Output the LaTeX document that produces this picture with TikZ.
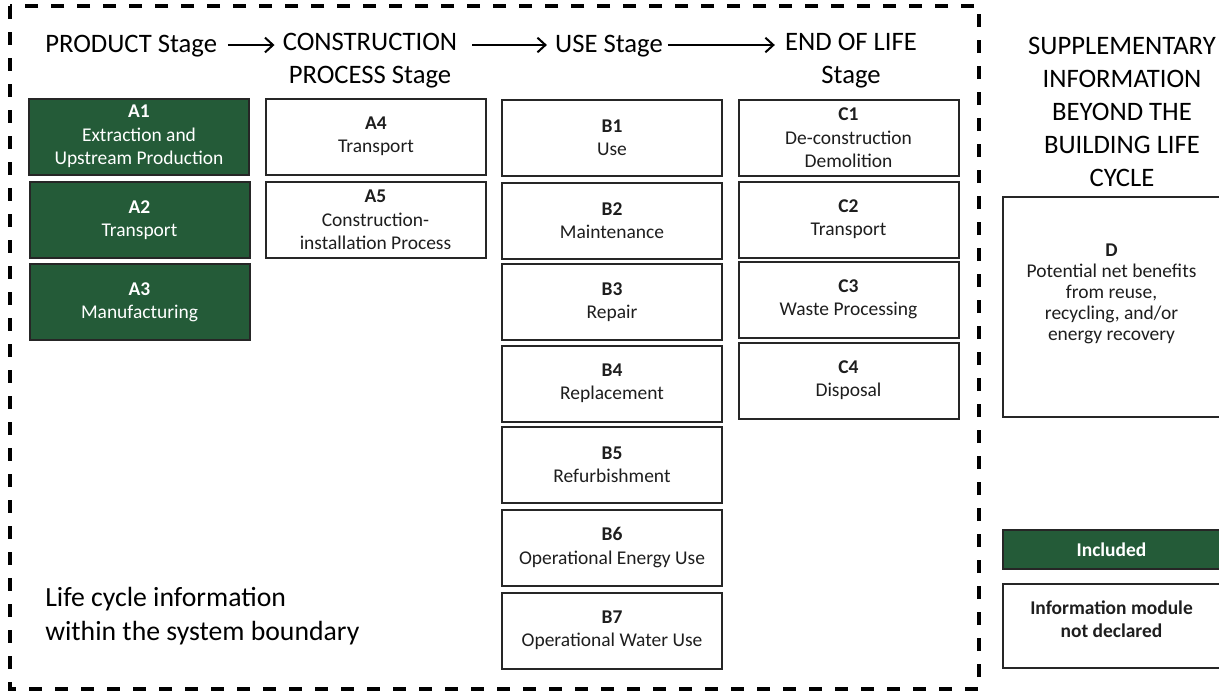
\documentclass[tikz,border=0pt]{standalone}
\usepackage{fontspec}
\setmainfont{Carlito}
\usetikzlibrary{arrows.meta}
\definecolor{incl}{RGB}{36,91,56}
\definecolor{txt}{RGB}{30,30,30}
\tikzset{
  mod/.style={draw=black!85, line width=1.5pt, fill=white, align=center, inner sep=0pt,
    minimum width=165pt, minimum height=57pt, text=txt,
    font=\fontsize{14.6}{17.5}\selectfont},
  inc/.style={mod, fill=incl, text=white},
  head/.style={inner sep=0pt, align=center, text=black,
    font=\fontsize{20}{24.75}\selectfont},
  arr/.style={line width=1.5pt, -{Straight Barb[length=6pt,width=11pt,line width=1.5pt]}},
  bound/.style={line width=3.6pt, dash pattern=on 10pt off 9.5pt}
}
\begin{document}
\begin{tikzpicture}[x=0.75pt,y=-0.75pt]
\useasboundingbox (0,0) rectangle (1219,694);
\draw[bound] (10,6) rectangle (979,689);

% headings (base = baseline of the last line)
\node[head, anchor=base west] (prod) at (45,52) {PRODUCT Stage};
\node[head, anchor=base] (cons) at (370,83) {CONSTRUCTION\\PROCESS Stage};
\node[head, anchor=base] (use) at (609,52) {USE Stage};
\node[head, anchor=base] (eol) at (851,83) {END OF LIFE\\Stage};
\node[head, anchor=base] (supp) at (1122,186) {SUPPLEMENTARY\\INFORMATION\\BEYOND THE\\BUILDING LIFE\\CYCLE};
\node[head, anchor=base west, align=left, font=\fontsize{20.8}{25.5}\selectfont] (life) at (45,640) {Life cycle information\\within the system boundary};

\coordinate (ay) at (0,45);
\draw[arr, shorten <=8pt, shorten >=6pt] (prod.east |- ay) -- (cons.west |- ay);
\draw[arr, shorten <=11pt, shorten >=6pt] (cons.east |- ay) -- (use.west |- ay);
\draw[arr, shorten <=3.5pt, shorten >=7.5pt] (use.east |- ay) -- (eol.west |- ay);

% A modules
\node[inc] (a1) at (139,136.5) {\textbf{A1}\\Extraction and\\Upstream Production};
\node[inc] (a2) at (139.5,220) {\textbf{A2}\\Transport};
\node[inc] (a3) at (139.5,302) {\textbf{A3}\\Manufacturing};
\node[mod] (a4) at (376,136.5) {\textbf{A4}\\Transport};
\node[mod] (a5) at (375.5,220) {\textbf{A5}\\Construction-\\installation Process};

% B modules
\node[mod] (b1) at (612,138) {\textbf{B1}\\Use};
\node[mod] (b2) at (612,220.5) {\textbf{B2}\\Maintenance};
\node[mod] (b3) at (612,302) {\textbf{B3}\\Repair};
\node[mod] (b4) at (612,383.5) {\textbf{B4}\\Replacement};
\node[mod] (b5) at (612,465) {\textbf{B5}\\Refurbishment};
\node[mod] (b6) at (612,547.5) {\textbf{B6}\\Operational Energy Use};
\node[mod] (b7) at (612,630.5) {\textbf{B7}\\Operational Water Use};

% C modules
\node[mod] (c1) at (848.5,138) {\textbf{C1}\\De-construction\\Demolition};
\node[mod] (c2) at (848.5,219.5) {\textbf{C2}\\Transport};
\node[mod] (c3) at (848.5,299.5) {\textbf{C3}\\Waste Processing};
\node[mod] (c4) at (848.5,380.5) {\textbf{C4}\\Disposal};

% D and legend
\node[mod, minimum width=163pt, minimum height=165pt, text depth=22pt, font=\fontsize{14.6}{15.8}\selectfont] (d) at (1111.5,307)
  {\textbf{D}\\Potential net benefits\\from reuse,\\recycling, and/or\\energy recovery};
\node[inc, minimum width=163pt, minimum height=29pt, font=\bfseries\fontsize{14.6}{17.5}\selectfont] (leginc) at (1111.5,549.5) {Included};
\node[mod, minimum width=163pt, minimum height=63pt, text depth=10.5pt, font=\bfseries\fontsize{14.6}{17.5}\selectfont] (legnd) at (1111.5,626) {Information module\\not declared};
\end{tikzpicture}
\end{document}
